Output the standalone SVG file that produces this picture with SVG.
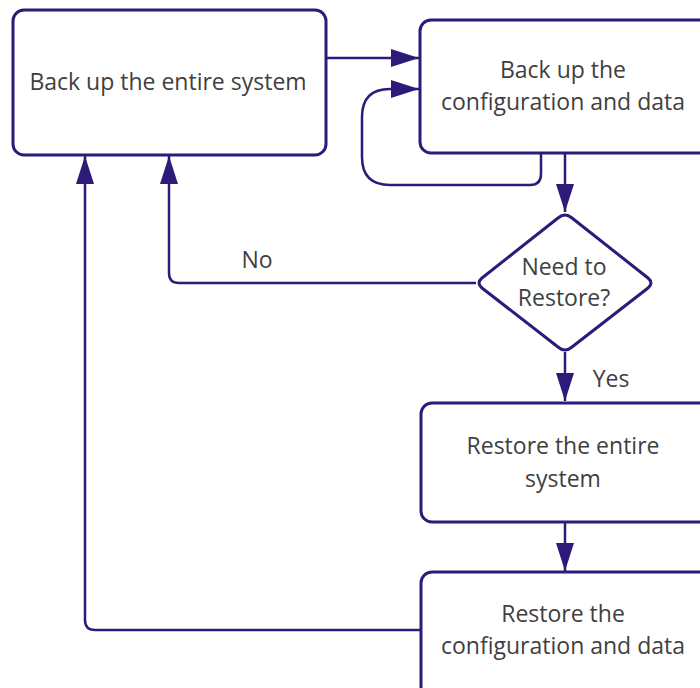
<svg xmlns="http://www.w3.org/2000/svg" width="700" height="688" viewBox="0 0 700 688">
<style>
.n{fill:#ffffff;stroke:#2e1a78;stroke-width:3}
.c{fill:none;stroke:#2e1a78;stroke-width:2.5}
.t{font-family:"Open Sans","Noto Sans",sans-serif;font-size:23px;fill:#3f3f3f;text-anchor:middle}
</style>
<defs>
<marker id="ah" viewBox="0 0 28 18" refX="28" refY="9" markerWidth="28" markerHeight="18" markerUnits="userSpaceOnUse" orient="auto">
<path d="M0,0 L28,9 L0,18 Z" fill="#2e1a78"/>
</marker>
</defs>
<rect width="700" height="688" fill="#ffffff"/>
<g id="connectors">
<path class="c" d="M326,58 H419" marker-end="url(#ah)"/>
<path class="c" d="M541,153 V174 Q541,185 530,185 H390 Q362,185 362,157 V117 Q362,89 390,89 H419" marker-end="url(#ah)"/>
<path class="c" d="M565,153 V212" marker-end="url(#ah)"/>
<path class="c" d="M476,283 H179 Q169,283 169,273 V156" marker-end="url(#ah)"/>
<path class="c" d="M565,352 V401" marker-end="url(#ah)"/>
<path class="c" d="M565,522 V571" marker-end="url(#ah)"/>
<path class="c" d="M420,630 H95 Q85,630 85,620 V156" marker-end="url(#ah)"/>
<text class="t" x="257" y="268">No</text>
<text class="t" x="611" y="387">Yes</text>
</g>
<g id="node-backup-system">
<rect class="n" x="13" y="10" width="313" height="145" rx="11"/>
<text class="t" x="168" y="90">Back up the entire system</text>
</g>
<g id="node-backup-config">
<rect class="n" x="420" y="20" width="290" height="133" rx="11"/>
<text class="t" x="563" y="78">Back up the</text>
<text class="t" x="563" y="110">configuration and data</text>
</g>
<g id="node-decision">
<path class="n" d="M558,218 Q565,212 572,218 L648,278 Q654,283 648,288 L572,347 Q565,353 558,347 L482,288 Q476,283 482,278 Z"/>
<text class="t" x="564" y="275">Need to</text>
<text class="t" x="564" y="306">Restore?</text>
</g>
<g id="node-restore-system">
<rect class="n" x="421" y="403" width="290" height="119" rx="11"/>
<text class="t" x="563" y="454">Restore the entire</text>
<text class="t" x="563" y="487">system</text>
</g>
<g id="node-restore-config">
<rect class="n" x="421" y="572" width="290" height="130" rx="11"/>
<text class="t" x="563" y="622">Restore the</text>
<text class="t" x="563" y="654">configuration and data</text>
</g>
</svg>
